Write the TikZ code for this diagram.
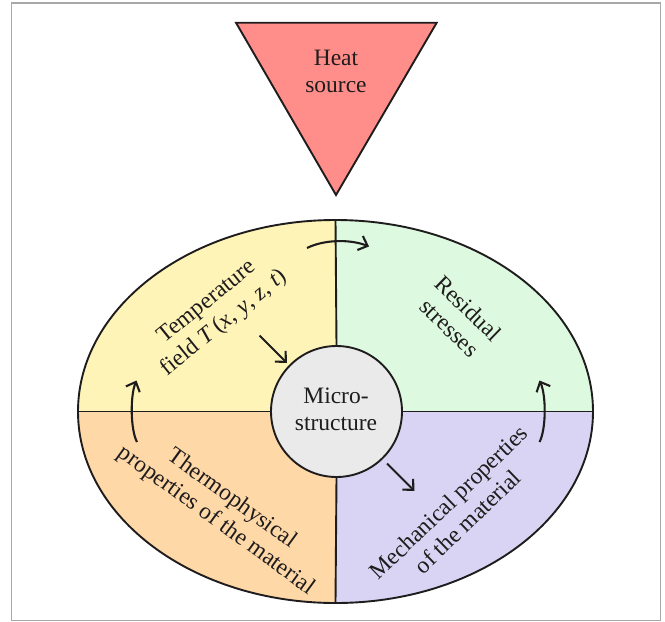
\documentclass[tikz,border=0pt]{standalone}
\usepackage{fontspec}
\setmainfont{Liberation Serif}
\usetikzlibrary{arrows.meta}
\definecolor{heatred}{RGB}{255,142,138}
\definecolor{qyellow}{RGB}{255,244,184}
\definecolor{qgreen}{RGB}{221,249,223}
\definecolor{qorange}{RGB}{255,216,168}
\definecolor{qlav}{RGB}{217,212,243}
\definecolor{mgray}{RGB}{234,234,234}
\definecolor{framegray}{RGB}{168,168,168}
\definecolor{ink}{RGB}{30,28,28}
\begin{document}
\begin{tikzpicture}[x=1pt,y=-1pt,
  lbl/.style={text=ink, align=center, inner sep=0pt, font=\fontsize{23.5}{27}\selectfont},
  edge/.style={draw=ink, line width=1.9pt},
  flow/.style={draw=ink, line width=2.1pt, -{Straight Barb[length=8pt,width=15pt]}}
]
\useasboundingbox (0,0) rectangle (665,622);
\draw[framegray, line width=1.5pt] (11.5,3) rectangle (660.5,620.5);

% heat source triangle
\draw[edge, fill=heatred, line join=miter] (236,22.7) -- (436.7,22.7) -- (336,195) -- cycle;
\node[lbl] (heat) at (336,71) {Heat\\source};

% quadrants
\begin{scope}
  \clip (335.5,411.5) ellipse [x radius=257.5pt, y radius=191.5pt];
  \fill[qyellow] (335.5,411.5) rectangle (70,210);
  \fill[qgreen]  (335.5,411.5) rectangle (600,210);
  \fill[qorange] (335.5,411.5) rectangle (70,610);
  \fill[qlav]    (335.5,411.5) rectangle (600,610);
\end{scope}
\draw[edge] (335.5,411.5) ellipse [x radius=257.5pt, y radius=191.5pt];

\coordinate (eN) at (335.5,220);
\coordinate (eS) at (335.5,603);
\coordinate (eW) at (78,411.5);
\coordinate (eE) at (593,411.5);

\node[circle, edge, fill=mgray, minimum size=131pt, inner sep=0pt] (micro) at (336.5,411.5) {};
\draw[edge] (eN) -- (micro.north);
\draw[edge] (micro.south) -- (eS);
\draw[edge] (eW) -- (micro.west);
\draw[edge] (micro.east) -- (eE);

\node[lbl] (microtext) at (336,409) {Micro-\\structure};

% quadrant labels
\node[lbl, rotate=39] (temp) at (216,313) {Temperature\\field \textit{T}\,(\textit{x}, \textit{y}, \textit{z}, \textit{t})};
\node[lbl, rotate=-44] (resid) at (459,318) {Residual\\stresses};
\node[lbl, rotate=-36] (thermo) at (224,510) {Thermophysical\\properties of the material};
\node[lbl, rotate=44] (mech) at (458,512) {Mechanical properties\\of the material};

% arrows
\coordinate (a1s) at (307,248);
\coordinate (a1e) at (369,246.5);
\draw[flow] (a1s) .. controls (324,239.5) and (350,239) .. (a1e);

\coordinate (a2s) at (137,442);
\coordinate (a2e) at (136.5,380.5);
\draw[flow] (a2s) .. controls (130.5,430) and (130,396) .. (a2e);

\coordinate (a3s) at (539.5,442);
\coordinate (a3e) at (539.5,380.5);
\draw[flow] (a3s) .. controls (546,430) and (546.5,396) .. (a3e);

\coordinate (a4s) at (259.5,335.5);
\coordinate (a4e) at (287,363);
\draw[flow] (a4s) -- (a4e);

\coordinate (a5s) at (387,463.5);
\coordinate (a5e) at (414.5,491);
\draw[flow] (a5s) -- (a5e);
\end{tikzpicture}
\end{document}
